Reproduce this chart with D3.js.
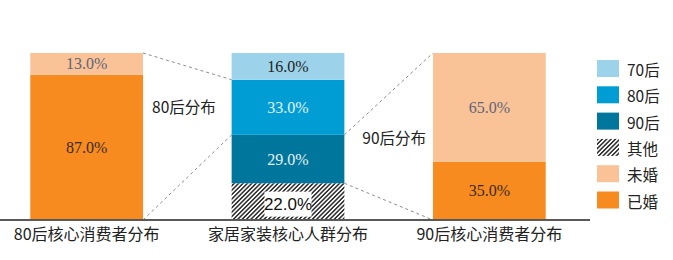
<!DOCTYPE html>
<html><head><meta charset="utf-8">
<script src="https://cdn.jsdelivr.net/npm/d3@7"></script>
<style>
html,body{margin:0;padding:0;background:#fff;}
svg{display:block;}
</style></head>
<body>
<svg id="chart" width="673" height="260"></svg>
<script>
const categories = ["80后核心消费者分布", "家居家装核心人群分布", "90后核心消费者分布"];
const keys = ["其他", "90后", "80后", "70后", "已婚", "未婚"];
const valOther = [0, 22, 0];
const val90 = [0, 29, 0];
const val80 = [0, 33, 0];
const val70 = [0, 16, 0];
const valMarried = [87, 0, 35];
const valUnmarried = [13, 0, 65];
const legendOrder = ["70后", "80后", "90后", "其他", "未婚", "已婚"];
const yMax = 100;

const seriesValues = {"其他": valOther, "90后": val90, "80后": val80, "70后": val70, "已婚": valMarried, "未婚": valUnmarried};
const table = categories.map((c, i) => {
  const row = {cat: c};
  keys.forEach(k => row[k] = seriesValues[k][i]);
  return row;
});

const colors = {"70后": "#9dd3ea", "80后": "#009dd5", "90后": "#00769d", "其他": "url(#hatch)", "未婚": "#f9c297", "已婚": "#f78b20"};
const textColors = {"70后": "#222", "80后": "#e3f3fa", "90后": "#e8f0f4", "其他": "#111", "未婚": "#5f6577", "已婚": "#3a2a1a"};

const svg = d3.select("#chart");
const defs = svg.append("defs");
const pat = defs.append("pattern").attr("id", "hatch").attr("patternUnits", "userSpaceOnUse")
  .attr("width", 3.1).attr("height", 3.1).attr("patternTransform", "rotate(45)");
pat.append("rect").attr("width", 3.1).attr("height", 3.1).attr("fill", "#fff");
pat.append("line").attr("x1", 0.8).attr("y1", 0).attr("x2", 0.8).attr("y2", 3.1)
  .attr("stroke", "#1a1a1a").attr("stroke-width", 1.4);

const x = d3.scaleBand().domain(categories).range([-14, 590]).paddingInner(0.44).paddingOuter(0.22);
const y = d3.scaleLinear().domain([0, yMax]).range([220, 53]);

const stacked = d3.stack().keys(keys)(table);

const g = svg.append("g");
stacked.forEach(s => {
  g.selectAll(null).data(s.filter(d => d[1] - d[0] > 0)).enter().append("rect")
    .attr("x", d => x(d.data.cat))
    .attr("y", d => y(d[1]))
    .attr("width", x.bandwidth())
    .attr("height", d => y(d[0]) - y(d[1]))
    .attr("fill", colors[s.key]);
});

// value labels
stacked.forEach(s => {
  s.filter(d => d[1] - d[0] > 0).forEach(d => {
    const cx = x(d.data.cat) + x.bandwidth() / 2;
    const cy = (y(d[0]) + y(d[1])) / 2;
    const label = (d[1] - d[0]).toFixed(1) + "%";
    if (s.key === "其他") {
      g.append("rect").attr("x", cx - 23.5).attr("y", cy - 10).attr("width", 47).attr("height", 25).attr("fill", "#fff");
      g.append("text").attr("x", cx).attr("y", cy + 2.5).attr("text-anchor", "middle").attr("dominant-baseline", "central")
        .attr("font-family", "Liberation Sans, Arial, sans-serif").attr("font-size", 17).attr("fill", textColors[s.key]).text(label);
    } else {
      g.append("text").attr("x", cx).attr("y", cy).attr("text-anchor", "middle").attr("dominant-baseline", "central")
        .attr("font-family", "Liberation Serif, Times New Roman, serif").attr("font-size", 16).attr("fill", textColors[s.key]).text(label);
    }
  });
});

// connectors
function segY(key, i, which) {
  const s = stacked.find(t => t.key === key);
  return y(s[i][which]);
}
const b0r = x(categories[0]) + x.bandwidth();
const b1l = x(categories[1]);
const b1r = x(categories[1]) + x.bandwidth();
const b2l = x(categories[2]);
const conns = [
  [b0r, y(yMax), b1l, segY("80后", 1, 1)],
  [b0r, y(0), b1l, segY("80后", 1, 0)],
  [b1r, segY("90后", 1, 1), b2l, y(yMax)],
  [b1r, segY("90后", 1, 0), b2l, y(0)]
];
svg.append("g").selectAll("line").data(conns).enter().append("line")
  .attr("x1", d => d[0]).attr("y1", d => d[1]).attr("x2", d => d[2]).attr("y2", d => d[3])
  .attr("stroke", "#8c8c8c").attr("stroke-width", 1).attr("stroke-dasharray", "3,3");

svg.append("text").attr("x", b0r + 9).attr("y", y(68)).attr("dominant-baseline", "central")
  .attr("font-family", "Noto Sans CJK SC, sans-serif").attr("font-size", 15.5).attr("fill", "#222").text("80后分布");
svg.append("text").attr("x", b1r + 18).attr("y", y(50)).attr("dominant-baseline", "central")
  .attr("font-family", "Noto Sans CJK SC, sans-serif").attr("font-size", 15.5).attr("fill", "#222").text("90后分布");

// axis
const axis = svg.append("g").attr("transform", "translate(0,220)")
  .call(d3.axisBottom(x).tickSize(0).tickPadding(9));
axis.select(".domain").remove();
axis.append("line").attr("x1", 0).attr("x2", 590).attr("y1", 0).attr("y2", 0).attr("stroke", "#595959").attr("stroke-width", 2);
axis.selectAll(".tick text").attr("font-family", "Noto Sans CJK SC, sans-serif").attr("font-size", 16).attr("fill", "#222");

// legend
const leg = svg.append("g").attr("transform", "translate(597,60)");
legendOrder.forEach((k, i) => {
  const row = leg.append("g").attr("transform", `translate(0,${i * 26.3})`);
  row.append("rect").attr("width", 22).attr("height", 17).attr("fill", colors[k]);
  row.append("text").attr("x", 30).attr("y", 9).attr("dominant-baseline", "central")
    .attr("font-family", "Noto Sans CJK SC, sans-serif").attr("font-size", 15.5).attr("fill", "#222").text(k);
});
</script>
</body></html>
